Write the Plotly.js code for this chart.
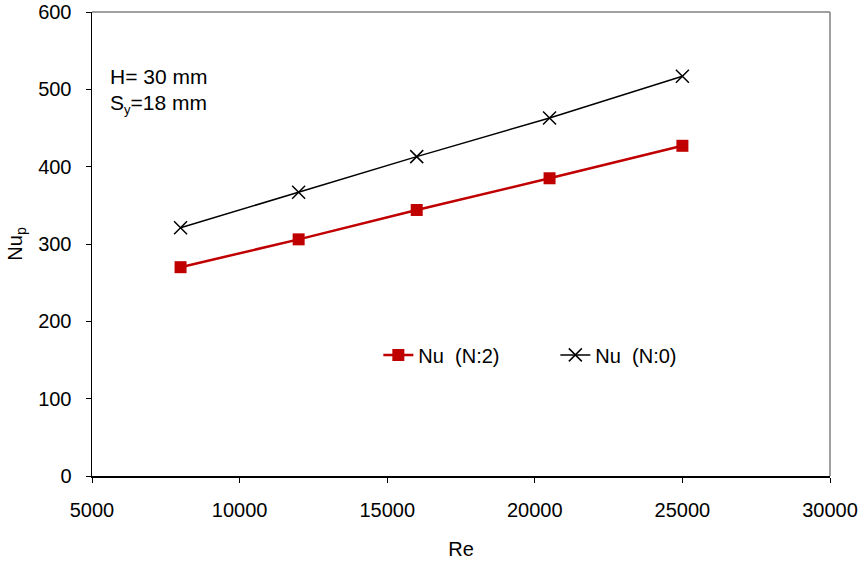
<!DOCTYPE html>
<html>
<head>
<meta charset="utf-8">
<script src="https://cdn.plot.ly/plotly-3.0.1.min.js"></script>
<style>html,body{margin:0;padding:0;background:#fff;}#chart{width:859px;height:565px;}</style>
</head>
<body>
<div id="chart"></div>
<script>
const reValues = [8000, 12000, 16000, 20500, 25000];
const nuN2 = [270, 306, 344, 385, 427];
const nuN0 = [321, 367, 413, 463, 517];
const seriesNames = ["Nu  (N:2)", "Nu  (N:0)"];
const xTicks = [5000, 10000, 15000, 20000, 25000, 30000];
const yTicks = [0, 100, 200, 300, 400, 500, 600];

const fam = "Liberation Sans, Arial, sans-serif";

const traces = [
  {x: reValues, y: nuN2, name: seriesNames[0], type: "scatter", mode: "lines+markers",
   line: {color: "#C00000", width: 2.5}, marker: {symbol: "square", size: 12, color: "#C00000"}},
  {x: reValues, y: nuN0, name: seriesNames[1], type: "scatter", mode: "lines+markers",
   line: {color: "#000000", width: 1.5}, marker: {symbol: "x-thin", size: 13, line: {color: "#000", width: 1.5}, color: "#000"}}
];

const layout = {
  width: 859, height: 565,
  margin: {l: 92, r: 29, t: 12, b: 89},
  paper_bgcolor: "#fff", plot_bgcolor: "#fff",
  font: {family: fam, size: 20, color: "#000"},
  showlegend: true,
  legend: {orientation: "h", x: 0.388, xanchor: "left", y: 0.261, yanchor: "middle",
           bgcolor: "rgba(0,0,0,0)", font: {family: fam, size: 20, color: "#000"},
           entrywidth: 132, entrywidthmode: "pixels"},
  xaxis: {range: [5000, 30000], tickvals: xTicks, ticktext: xTicks.map(String),
          showgrid: false, zeroline: false, showline: true, linecolor: "#000", linewidth: 1.5,
          ticks: "outside", ticklen: 5, tickcolor: "#000", ticklabelstandoff: 10,
          tickfont: {family: fam, size: 20, color: "#000"},
          title: {text: "Re", font: {family: fam, size: 20, color: "#000"}, standoff: 22}},
  yaxis: {range: [0, 600], tickvals: yTicks, ticktext: yTicks.map(String),
          showgrid: false, zeroline: false, showline: true, linecolor: "#000", linewidth: 1.5,
          ticks: "outside", ticklen: 5, tickcolor: "#000", ticklabelstandoff: 10,
          tickfont: {family: fam, size: 20, color: "#000"},
          title: {text: "Nu<sub>p</sub>", font: {family: fam, size: 20, color: "#000"}, standoff: 10}},
  shapes: [
    {type: "line", xref: "paper", yref: "paper", x0: 0, x1: 1, y0: 1, y1: 1, line: {color: "#808080", width: 1.5}},
    {type: "line", xref: "paper", yref: "paper", x0: 1, x1: 1, y0: 0, y1: 1, line: {color: "#808080", width: 1.5}}
  ],
  annotations: [
    {xref: "paper", yref: "paper", x: 0.022, y: 0.860, xanchor: "left", yanchor: "middle", showarrow: false,
     align: "left", text: "H= 30 mm", font: {family: fam, size: 21, color: "#000"}},
    {xref: "paper", yref: "paper", x: 0.022, y: 0.802, xanchor: "left", yanchor: "middle", showarrow: false,
     align: "left", text: "S<sub><span style='font-size:13px'>y</span></sub>=18 mm", font: {family: fam, size: 21, color: "#000"}}
  ]
};

Plotly.newPlot("chart", traces, layout, {displayModeBar: false, staticPlot: true});
</script>
</body>
</html>
